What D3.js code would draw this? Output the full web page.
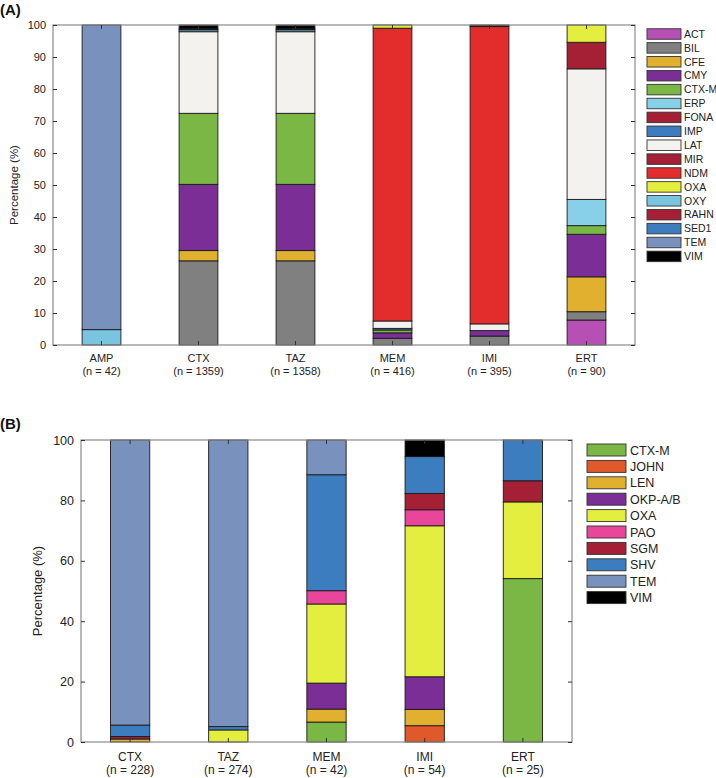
<!DOCTYPE html>
<html><head><meta charset="utf-8">
<script src="https://cdn.jsdelivr.net/npm/d3@7"></script>
<style>
html,body{margin:0;padding:0;background:#fff;}
svg{display:block;font-family:"Liberation Sans",Arial,sans-serif;}
</style></head>
<body><svg id="chart" width="716" height="778"></svg>
<script>
// ---------- Panel A data ----------
const catsA = ["AMP","CTX","TAZ","MEM","IMI","ERT"];
const nA = [42,1359,1358,416,395,90];
const seriesA = ["ACT","BIL","CFE","CMY","CTX-M","ERP","FONA","IMP","LAT","MIR","NDM","OXA","OXY","RAHN","SED1","TEM","VIM"];
const colorsA = ["#b650b4","#808080","#e1b02f","#7a2e96","#7ab744","#88d0e8","#a51f35","#3b7dbf","#f4f2ef","#a51f35","#e32c2c","#e4ee3e","#79c5df","#a51f35","#3b7dbf","#7891bd","#000000"];
const valuesA = [
  [0,0,0,0,0,7.8],          // ACT
  [0,26.3,26.3,2.1,2.8,2.6],// BIL
  [0,3.2,3.2,0,0,10.9],     // CFE
  [0,20.7,20.7,1.7,1.7,13.3],// CMY
  [0,22.2,22.2,0.9,0,2.7],  // CTX-M
  [0,0,0,0,0,8.2],          // ERP
  [0,0,0,0,0,0],            // FONA
  [0,0,0,0.5,0,0],          // IMP
  [0,25.5,25.5,2.3,2.1,40.8],// LAT
  [0,0,0,0,0,8.3],          // MIR
  [0,0,0,91.5,92.9,0],      // NDM
  [0,0,0,1.0,0,5.4],        // OXA
  [4.8,0.6,0.6,0,0,0],      // OXY
  [0,0,0,0,0,0],            // RAHN
  [0,0.3,0.3,0,0.3,0],      // SED1
  [95.2,0,0,0,0,0],         // TEM
  [0,1.2,1.2,0,0.2,0]       // VIM
];
const ticksA = [0,10,20,30,40,50,60,70,80,90,100];

// ---------- Panel B data ----------
const catsB = ["CTX","TAZ","MEM","IMI","ERT"];
const nB = [228,274,42,54,25];
const seriesB = ["CTX-M","JOHN","LEN","OKP-A/B","OXA","PAO","SGM","SHV","TEM","VIM"];
const colorsB = ["#7ab744","#e0592b","#e1b02f","#7a2e96","#e4ee3e","#e8459b","#a51f35","#3b7dbf","#7891bd","#000000"];
const valuesB = [
  [0,0,6.6,0,54.1],        // CTX-M
  [0,0,0,5.4,0],           // JOHN
  [1.0,0,4.3,5.4,0],       // LEN
  [0,0,8.6,10.8,0],        // OKP-A/B
  [0,4.0,26.2,50.0,25.4],  // OXA
  [0,0,4.4,5.3,0],         // PAO
  [0.8,0,0,5.4,7.0],       // SGM
  [3.8,1.1,38.4,12.2,13.5],// SHV
  [94.4,94.9,11.5,0,0],    // TEM
  [0,0,0,5.5,0]            // VIM
];
const ticksB = [0,20,40,60,80,100];

const svg = d3.select("#chart");
const textCol = "#222";

function panel(cfg){
  const g = svg.append("g");
  const x = d3.scaleBand().domain(cfg.cats).range([cfg.left, cfg.right]).paddingInner(0).paddingOuter(0);
  const y = d3.scaleLinear().domain([0,100]).range([cfg.bottom, cfg.top]);
  const bw = x.bandwidth()*0.4;
  const rows = cfg.cats.map((c,i)=>{
    const o = {cat:c};
    cfg.series.forEach((s,j)=>o[s]=cfg.values[j][i]);
    return o;
  });
  const stacked = d3.stack().keys(cfg.series)(rows);
  const color = d3.scaleOrdinal().domain(cfg.series).range(cfg.colors);
  stacked.forEach(layer=>{
    g.selectAll(null).data(layer.filter(d=>d[1]-d[0]>0)).enter().append("rect")
      .attr("x", d=>x(d.data.cat)+x.bandwidth()/2-bw/2)
      .attr("width", bw)
      .attr("y", d=>y(d[1]))
      .attr("height", d=>y(d[0])-y(d[1]))
      .attr("fill", color(layer.key))
      .attr("stroke", "#1a1a1a")
      .attr("stroke-width", 0.9);
  });
  const frameCol = "#8a8a8a";
  g.append("rect").attr("x",cfg.left).attr("y",cfg.top)
    .attr("width",cfg.right-cfg.left).attr("height",cfg.bottom-cfg.top)
    .attr("fill","none").attr("stroke",frameCol).attr("stroke-width",1.2);
  const yAxis = d3.axisLeft(y).tickValues(cfg.ticks).tickSize(-4).tickPadding(7).tickFormat(d3.format("d"));
  const ya = g.append("g").attr("transform",`translate(${cfg.left},0)`).call(yAxis);
  ya.select(".domain").remove();
  ya.selectAll(".tick line").attr("stroke","#333");
  ya.selectAll(".tick text").attr("fill",textCol).style("font-size",cfg.tickFont+"px")
    .style("font-family","'Liberation Sans',Arial,sans-serif");
  const yr = g.append("g").attr("transform",`translate(${cfg.right},0)`).call(d3.axisRight(y).tickValues(cfg.ticks).tickSize(-4).tickFormat(""));
  yr.select(".domain").remove();
  yr.selectAll(".tick line").attr("stroke","#333");
  const xa = g.append("g").attr("transform",`translate(0,${cfg.bottom})`).call(d3.axisBottom(x).tickSize(-4).tickFormat(""));
  xa.select(".domain").remove();
  xa.selectAll(".tick line").attr("stroke","#333");
  const xt = g.append("g").attr("transform",`translate(0,${cfg.top})`).call(d3.axisTop(x).tickSize(-4).tickFormat(""));
  xt.select(".domain").remove();
  xt.selectAll(".tick line").attr("stroke","#333");
  cfg.cats.forEach((c,i)=>{
    const cx = x(c)+x.bandwidth()/2;
    g.append("text").attr("x",cx).attr("y",cfg.bottom+cfg.lab1).attr("text-anchor","middle")
      .attr("fill",textCol).style("font-size",cfg.catFont+"px").text(c);
    g.append("text").attr("x",cx).attr("y",cfg.bottom+cfg.lab2).attr("text-anchor","middle")
      .attr("fill",textCol).style("font-size",cfg.catFont+"px").text(`(n = ${cfg.n[i]})`);
  });
  g.append("text").attr("transform",`translate(${cfg.ylabX},${(cfg.top+cfg.bottom)/2}) rotate(-90)`)
    .attr("text-anchor","middle").attr("fill",textCol).style("font-size",cfg.ylabFont+"px").text("Percentage (%)");
  g.append("text").attr("x",0).attr("y",cfg.letterY).attr("fill","#111")
    .style("font-size","15px").style("font-weight","bold").text(cfg.letter);
  const lg = g.append("g");
  cfg.series.forEach((s,j)=>{
    const cy = cfg.legY + j*cfg.legStep;
    lg.append("rect").attr("x",cfg.legX).attr("y",cy-cfg.legH/2).attr("width",cfg.legW).attr("height",cfg.legH)
      .attr("fill",cfg.colors[j]).attr("stroke","#333").attr("stroke-width",0.9);
    lg.append("text").attr("x",cfg.legX+cfg.legW+cfg.legGap).attr("y",cy).attr("dy","0.36em")
      .attr("fill",textCol).style("font-size",cfg.legFont+"px").text(s);
  });
}

panel({
  cats:catsA, n:nA, series:seriesA, colors:colorsA, values:valuesA, ticks:ticksA,
  left:53, right:635, top:25, bottom:345,
  tickFont:11, catFont:11, lab1:17, lab2:30, ylabX:18, ylabFont:11.5,
  letter:"(A)", letterY:15,
  legX:647, legY:34, legStep:13.9, legW:34, legH:10.5, legGap:3, legFont:10.5
});
panel({
  cats:catsB, n:nB, series:seriesB, colors:colorsB, values:valuesB, ticks:ticksB,
  left:81, right:572, top:440, bottom:742,
  tickFont:12.5, catFont:12, lab1:18.5, lab2:32, ylabX:42, ylabFont:13,
  letter:"(B)", letterY:429,
  legX:587, legY:450, legStep:16.4, legW:39, legH:12, legGap:4, legFont:12.5
});
</script>
</body></html>
